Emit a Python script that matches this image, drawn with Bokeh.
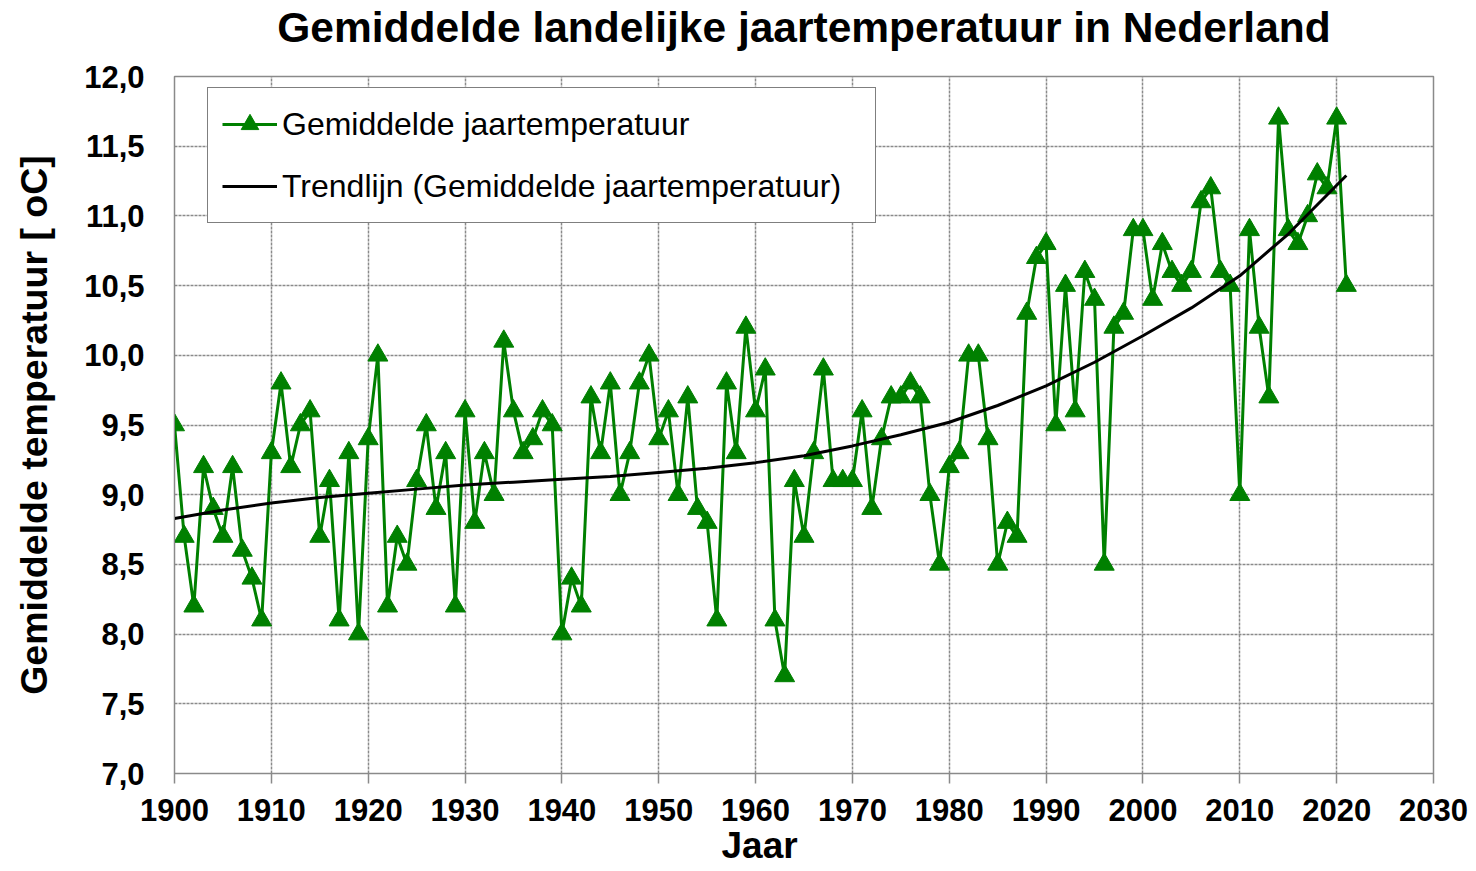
from bokeh.plotting import figure
from bokeh.models import (FixedTicker, Range1d, Legend, LegendItem, Title,
                          CustomJSTickFormatter)
from bokeh.embed import file_html
from bokeh.resources import INLINE

# ---------------- data ----------------
years = list(range(1900, 2022))
temps = [9.5, 8.7, 8.2, 9.2, 8.9, 8.7, 9.2, 8.6, 8.4, 8.1,        # 1900-1909
         9.3, 9.8, 9.2, 9.5, 9.6, 8.7, 9.1, 8.1, 9.3, 8.0,        # 1910-1919
         9.4, 10.0, 8.2, 8.7, 8.5, 9.1, 9.5, 8.9, 9.3, 8.2,       # 1920-1929
         9.6, 8.8, 9.3, 9.0, 10.1, 9.6, 9.3, 9.4, 9.6, 9.5,       # 1930-1939
         8.0, 8.4, 8.2, 9.7, 9.3, 9.8, 9.0, 9.3, 9.8, 10.0,       # 1940-1949
         9.4, 9.6, 9.0, 9.7, 8.9, 8.8, 8.1, 9.8, 9.3, 10.2,       # 1950-1959
         9.6, 9.9, 8.1, 7.7, 9.1, 8.7, 9.3, 9.9, 9.1, 9.1,        # 1960-1969
         9.1, 9.6, 8.9, 9.4, 9.7, 9.7, 9.8, 9.7, 9.0, 8.5,        # 1970-1979
         9.2, 9.3, 10.0, 10.0, 9.4, 8.5, 8.8, 8.7, 10.3, 10.7,    # 1980-1989
         10.8, 9.5, 10.5, 9.6, 10.6, 10.4, 8.5, 10.2, 10.3, 10.9, # 1990-1999
         10.9, 10.4, 10.8, 10.6, 10.5, 10.6, 11.1, 11.2, 10.6, 10.5,  # 2000-2009
         9.0, 10.9, 10.2, 9.7, 11.7, 10.9, 10.8, 11.0, 11.3, 11.2,    # 2010-2019
         11.7, 10.5]                                              # 2020-2021

trend_years = [1900, 1905, 1910, 1915, 1920, 1925, 1930, 1935, 1940, 1945,
               1950, 1955, 1960, 1965, 1970, 1975, 1980, 1985, 1990, 1995,
               2000, 2005, 2010, 2015, 2020, 2021]
trend_vals = [8.83, 8.89, 8.94, 8.98, 9.01, 9.04, 9.07, 9.09, 9.11, 9.13,
              9.16, 9.19, 9.23, 9.28, 9.35, 9.43, 9.52, 9.64, 9.78, 9.95,
              10.14, 10.34, 10.57, 10.87, 11.22, 11.29]

x_ticks = [1900, 1910, 1920, 1930, 1940, 1950, 1960, 1970, 1980, 1990, 2000, 2010, 2020, 2030]
y_ticks = [7.0, 7.5, 8.0, 8.5, 9.0, 9.5, 10.0, 10.5, 11.0, 11.5, 12.0]

title_text = "Gemiddelde landelijke jaartemperatuur in Nederland"
x_label = "Jaar"
y_label = "Gemiddelde temperatuur [ oC]"
series_label = "Gemiddelde jaartemperatuur"
trend_label = "Trendlijn (Gemiddelde jaartemperatuur)"

FONT = "Liberation Sans"
GREEN = "#008000"
GRID = "#8a8a8a"

# ---------------- figure ----------------
p = figure(width=1468, height=866,
           x_range=Range1d(1900, 2030), y_range=Range1d(7, 12),
           output_backend="svg", toolbar_location=None,
           min_border_left=174, min_border_right=35,
           min_border_top=76, min_border_bottom=93)

p.outline_line_color = GRID
p.outline_line_width = 1.5
p.background_fill_color = "white"
p.border_fill_color = "white"

# titles above the frame: a small spacer next to the frame, then the main title
spacer = Title(text=" ", text_font=FONT, text_font_size="12px", standoff=10)
p.add_layout(spacer, "above")
main_title = Title(text=title_text, align="center", vertical_align="bottom",
                   text_font=FONT, text_font_size="42.5px",
                   text_font_style="bold", text_color="black", standoff=0)
p.add_layout(main_title, "above")

# axes
p.xaxis.ticker = FixedTicker(ticks=x_ticks)
p.yaxis.ticker = FixedTicker(ticks=y_ticks)
p.yaxis.formatter = CustomJSTickFormatter(code="return tick.toFixed(1).replace('.', ',');")

for ax in (p.xaxis, p.yaxis):
    ax.major_label_text_font = FONT
    ax.major_label_text_font_size = "31px"
    ax.major_label_text_font_style = "bold"
    ax.major_label_text_color = "black"
    ax.axis_line_color = GRID
    ax.major_tick_line_color = GRID
    ax.major_tick_line_width = 1.5
    ax.minor_tick_line_color = None
    ax.major_tick_in = 0

p.xaxis.major_tick_out = 10
p.xaxis.major_label_standoff = 15
p.yaxis.major_tick_out = 0
p.yaxis.major_label_standoff = 30

p.yaxis.axis_label = y_label
p.yaxis.axis_label_text_font = FONT
p.yaxis.axis_label_text_font_size = "37.5px"
p.yaxis.axis_label_text_font_style = "bold"
p.yaxis.axis_label_text_color = "black"
p.yaxis.axis_label_standoff = 26

# grid
for g in (p.xgrid, p.ygrid):
    g.grid_line_color = GRID
    g.grid_line_width = 1.5
    g.grid_line_dash = "3 1"

# data
l1 = p.line(years, temps, line_color=GREEN, line_width=3)
s1 = p.scatter(years, temps, marker="triangle", size=20,
               fill_color=GREEN, line_color=GREEN)
t1 = p.line(trend_years, trend_vals, line_color="black", line_width=3)

legend = Legend(items=[LegendItem(label=series_label, renderers=[l1, s1]),
                       LegendItem(label=trend_label, renderers=[t1])],
                location=(33, 550))
legend.label_text_font = FONT
legend.label_text_font_size = "32px"
legend.label_text_color = "black"
legend.border_line_color = "black"
legend.border_line_width = 1.5
legend.background_fill_color = "white"
legend.background_fill_alpha = 1.0
legend.glyph_width = 55
legend.glyph_height = 44
legend.label_height = 44
legend.label_standoff = 5
legend.padding = 14
legend.spacing = 18
legend.margin = 0
legend.label_width = 579
p.add_layout(legend, "center")

# x-axis title ("Jaar") as a panel below the tick labels
jaar = Title(text=x_label, align="left", vertical_align="bottom", offset=547,
             text_font=FONT, text_font_size="37px", text_font_style="bold",
             text_color="black", standoff=-2)
p.add_layout(jaar, "below")

open("out.html", "w").write(file_html(p, INLINE))
